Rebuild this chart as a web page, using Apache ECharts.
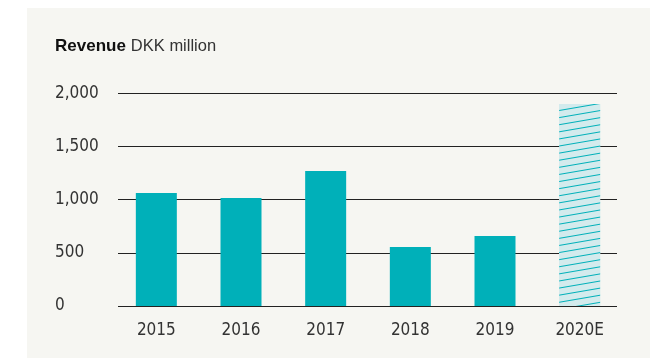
<!DOCTYPE html>
<html>
<head>
<meta charset="utf-8">
<script src="https://cdn.jsdelivr.net/npm/echarts@6/dist/echarts.min.js"></script>
<style>
html,body{margin:0;padding:0;background:#ffffff;}
#chart{width:650px;height:358px;}
</style>
</head>
<body>
<div id="chart"></div>
<script>
var categories = ['2015', '2016', '2017', '2018', '2019', '2020E'];
var revenue = [1062, 1015, 1269, 555, 658, 1900];
var estimateIndex = 5;
var yTicks = [0, 500, 1000, 1500, 2000];

var TEAL = '#00b0b9';
var HATCH_BG = '#d3ebed';
var TICK_FONT = '"Liberation Sans Narrow", "DejaVu Sans Condensed", "Roboto", sans-serif';

var chart = echarts.init(document.getElementById('chart'), null, {renderer: 'canvas'});

var barData = revenue.map(function (v, i) {
  if (i === estimateIndex) {
    return {
      value: v,
      itemStyle: {
        color: HATCH_BG,
        decal: {
          symbol: 'rect',
          symbolSize: 1,
          color: TEAL,
          backgroundColor: HATCH_BG,
          dashArrayX: [[1, 0]],
          dashArrayY: [1, 5.6],
          rotation: -0.17
        }
      }
    };
  }
  return v;
});

var yMin = yTicks[0], yMax = yTicks[yTicks.length - 1], yStep = yTicks[1] - yTicks[0];

var option = {
  backgroundColor: '#ffffff',
  animation: false,
  graphic: [{
    type: 'rect',
    left: 27, top: 8,
    shape: {width: 623, height: 350},
    style: {fill: '#f6f6f2'},
    z: -10
  }],
  title: {
    text: '{b|Revenue} {r|DKK million}',
    left: 50,
    top: 32,
    textStyle: {
      rich: {
        b: {fontFamily: 'Liberation Sans', fontWeight: 'bold', fontSize: 17, color: '#111111'},
        r: {fontFamily: 'Liberation Sans', fontWeight: 'normal', fontSize: 16.5, color: '#333333'}
      }
    }
  },
  grid: [
    {left: 118, right: 33, top: 93.3, bottom: 52, containLabel: false},
    {left: 114, right: 28, top: 93.3, bottom: 52, containLabel: false}
  ],
  xAxis: [
    {type: 'category', gridIndex: 0, data: categories, show: false},
    {
      type: 'category', gridIndex: 1, data: categories,
      axisLine: {show: false}, axisTick: {show: false},
      axisLabel: {
        margin: 16,
        fontFamily: TICK_FONT,
        fontSize: 17,
        color: '#333333'
      }
    }
  ],
  yAxis: [
    {
      type: 'value', gridIndex: 0,
      min: yMin, max: yMax, interval: yStep,
      axisLine: {show: false}, axisTick: {show: false},
      splitLine: {show: true, lineStyle: {color: '#222222', width: 1.2}},
      axisLabel: {
        align: 'left',
        margin: 63,
        fontFamily: TICK_FONT,
        fontSize: 17,
        color: '#333333',
        padding: [0, 0, 12, 0],
        formatter: function (v) { return v.toLocaleString('en-US'); }
      }
    },
    {
      type: 'value', gridIndex: 1,
      min: yMin, max: yMax, interval: yStep,
      show: false,
      splitLine: {show: false}
    }
  ],
  series: [{
    type: 'bar',
    xAxisIndex: 1,
    yAxisIndex: 1,
    data: barData,
    barWidth: 41,
    itemStyle: {color: TEAL},
    z: 5
  }]
};

chart.setOption(option);
</script>
</body>
</html>
